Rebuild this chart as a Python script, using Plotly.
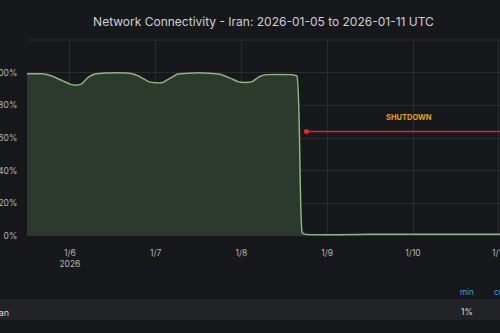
import plotly.graph_objects as go

# ---- data ----
times = [
    "2026-01-05 12:00", "2026-01-05 16:00", "2026-01-05 19:00", "2026-01-05 22:00",
    "2026-01-06 00:00", "2026-01-06 02:00", "2026-01-06 03:30", "2026-01-06 05:00",
    "2026-01-06 07:00", "2026-01-06 10:00", "2026-01-06 16:00", "2026-01-06 18:00",
    "2026-01-06 20:00", "2026-01-06 22:00", "2026-01-07 00:00", "2026-01-07 02:00",
    "2026-01-07 04:00", "2026-01-07 06:00", "2026-01-07 09:00", "2026-01-07 15:00",
    "2026-01-07 18:00", "2026-01-07 21:00", "2026-01-07 23:00", "2026-01-08 01:00",
    "2026-01-08 03:00", "2026-01-08 05:00", "2026-01-08 07:00", "2026-01-08 14:00",
    "2026-01-08 15:30", "2026-01-08 17:00", "2026-01-08 18:00", "2026-01-09 12:00",
    "2026-01-10 12:00", "2026-01-11 06:00",
]
connectivity = [
    99.4, 99.3, 98.0, 95.0,
    93.0, 92.4, 93.5, 97.0,
    99.2, 99.8, 99.8, 99.0,
    97.0, 94.5, 93.8, 94.0,
    96.5, 99.0, 99.7, 99.7,
    99.0, 96.5, 94.5, 94.0,
    94.5, 97.5, 98.8, 98.8,
    98.0, 2.0, 1.0, 1.0,
    1.0, 1.0,
]
shutdown_times = ["2026-01-08 18:10", "2026-01-11 06:00"]
shutdown_level = [64, 64]
shutdown_label = "SHUTDOWN"
shutdown_label_time = "2026-01-09 23:00"
shutdown_label_level = 72.5

x_tickvals = ["2026-01-06", "2026-01-07", "2026-01-08", "2026-01-09", "2026-01-10", "2026-01-11"]
x_ticktext = ["1/6<br>2026", "1/7", "1/8", "1/9", "1/10", "1/11"]
y_tickvals = [0, 20, 40, 60, 80, 100, 120]
y_ticktext = ["0%", "20%", "40%", "60%", "80%", "100%", ""]

title = "Network Connectivity - Iran: 2026-01-05 to 2026-01-11 UTC"
legend_name = "Iran"
legend_min = "1%"

BG = "#17181b"
GRID = "#2a2b2f"
TXT = "#b5b6b9"
FONT = "Inter"

fig = go.Figure()
fig.add_trace(go.Scatter(
    x=times, y=connectivity, mode="lines",
    line=dict(color="#8ab57f", width=1.5, shape="spline", smoothing=0.4),
    fill="tozeroy", fillcolor="#2b3a2c", hoverinfo="skip", showlegend=False,
))
fig.add_trace(go.Scatter(
    x=shutdown_times, y=shutdown_level, mode="lines",
    line=dict(color="#d9262c", width=1.5), showlegend=False, hoverinfo="skip",
))
fig.add_trace(go.Scatter(
    x=shutdown_times[:1], y=shutdown_level[:1], mode="markers",
    marker=dict(color="#e8262c", size=5), showlegend=False, hoverinfo="skip",
))

annotations = [
    dict(text=shutdown_label, x=shutdown_label_time, y=shutdown_label_level,
         xref="x", yref="y", showarrow=False,
         font=dict(family=FONT, size=7.5, color="#e2a21f", weight="bold")),
    dict(text=legend_name, x=-0.034, y=-0.389, xref="paper", yref="paper",
         xanchor="right", yanchor="middle", showarrow=False,
         font=dict(family=FONT, size=9, color="#d8d9da")),
    dict(text=legend_min, x=0.93, y=-0.389, xref="paper", yref="paper",
         xanchor="center", yanchor="middle", showarrow=False,
         font=dict(family=FONT, size=8.5, color="#d8d9da")),
    dict(text="min", x=0.93, y=-0.286, xref="paper", yref="paper",
         xanchor="center", yanchor="middle", showarrow=False,
         font=dict(family=FONT, size=8, color="#33a2e5")),
    dict(text="current", x=0.983, y=-0.286, xref="paper", yref="paper",
         xanchor="left", yanchor="middle", showarrow=False,
         font=dict(family=FONT, size=8, color="#33a2e5")),
]

shapes = [
    dict(type="rect", xref="paper", yref="paper", x0=-0.2, x1=1.2, y0=-0.429, y1=-0.321,
         fillcolor="#222327", line=dict(width=0), layer="below"),
    dict(type="line", xref="paper", yref="paper", x0=0, x1=1, y0=1, y1=1,
         line=dict(color=GRID, width=1), layer="below"),
]

fig.update_layout(
    width=500, height=333,
    margin=dict(l=27, r=0, t=40, b=97),
    paper_bgcolor=BG, plot_bgcolor=BG,
    title=dict(text=title, x=0.5, xref="paper", xanchor="center", y=1 - 22 / 333, yanchor="middle",
               font=dict(family=FONT, size=12, color="#cfd0d2")),
    xaxis=dict(
        range=["2026-01-05 12:00", "2026-01-11 00:20"],
        tickvals=x_tickvals, ticktext=x_ticktext,
        showgrid=True, gridcolor=GRID, gridwidth=1,
        zeroline=False, showline=False,
        ticks="outside", ticklen=9, tickcolor="rgba(0,0,0,0)",
        tickfont=dict(family=FONT, size=8.5, color=TXT),
        ticklabeloverflow="allow",
        automargin=False, fixedrange=True,
    ),
    yaxis=dict(
        range=[0, 120], tickvals=y_tickvals, ticktext=y_ticktext,
        showgrid=True, gridcolor=GRID, gridwidth=1,
        zeroline=False, showline=False,
        ticks="outside", ticklen=7, tickcolor="rgba(0,0,0,0)",
        tickfont=dict(family=FONT, size=8.5, color=TXT),
        ticklabeloverflow="allow",
        automargin=False, fixedrange=True,
    ),
    annotations=annotations,
    shapes=shapes,
    showlegend=False,
)

fig.write_html("out.html")
